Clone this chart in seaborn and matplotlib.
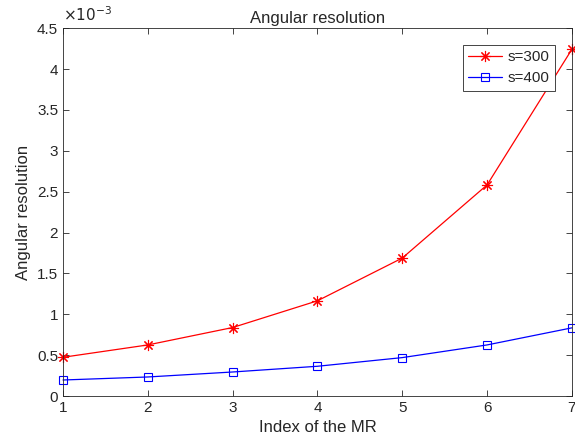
"""Angular resolution vs MR index, MATLAB-like look"""

import pandas as pd
import seaborn as sns
import matplotlib.pyplot as plt
from matplotlib.ticker import FuncFormatter, MultipleLocator

MR_INDEX = [1, 2, 3, 4, 5, 6, 7]
S300 = [0.474e-3, 0.625e-3, 0.838e-3, 1.165e-3, 1.688e-3, 2.583e-3, 4.242e-3]
S400 = [0.196e-3, 0.233e-3, 0.294e-3, 0.364e-3, 0.470e-3, 0.625e-3, 0.834e-3]
SERIES = ["s=300", "s=400"]
COLORS = ["#ff0000", "#0000ff"]
MARKERS = [(8, 2, 0), "s"]
MSIZES = [8, 6]

sns.set_style("white")
plt.rcParams["font.family"] = ["Liberation Sans", "DejaVu Sans"]

fig = plt.figure(figsize=(5.75, 4.41), dpi=100)
ax = fig.add_axes([0.1096, 0.102, 0.885, 0.834])

for name, vals, c, m, ms in zip(SERIES, [S300, S400], COLORS, MARKERS, MSIZES):
    d = pd.DataFrame({"x": MR_INDEX, "y": vals})
    sns.lineplot(data=d, x="x", y="y", ax=ax, color=c, lw=0.9, label=name,
                 marker=m, markersize=ms, markerfacecolor="none",
                 markeredgecolor=c, markeredgewidth=0.8, clip_on=False)

ax.set_xlim(1, 7)
ax.set_ylim(0, 4.5e-3)
ax.yaxis.set_major_locator(MultipleLocator(0.5e-3))
ax.yaxis.set_major_formatter(FuncFormatter(lambda v, _: f"{v * 1e3:g}"))

edge = "#262626"
for sp in ax.spines.values():
    sp.set_color(edge)
    sp.set_linewidth(0.6)
ax.tick_params(direction="in", length=4, width=0.6, colors=edge,
               labelcolor=edge, labelsize=11, top=True, right=True,
               left=True, bottom=True)
ax.text(0.0, 1.012, r"$\times10^{-3}$", transform=ax.transAxes,
        fontsize=11, color=edge, ha="left", va="bottom")

ax.set_xlabel("Index of the MR", fontsize=12, color=edge)
ax.set_ylabel("Angular resolution", fontsize=12, color=edge)
ax.set_title("Angular resolution", fontsize=12, pad=4)

leg = ax.legend(loc="upper right", bbox_to_anchor=(0.967, 0.954),
                borderaxespad=0, fancybox=False, framealpha=1,
                edgecolor=edge, fontsize=11, borderpad=0.35,
                handlelength=2.2, handletextpad=0.4, labelspacing=0.45)
leg.get_frame().set_linewidth(0.6)

fig.savefig("out.png", dpi=100)
